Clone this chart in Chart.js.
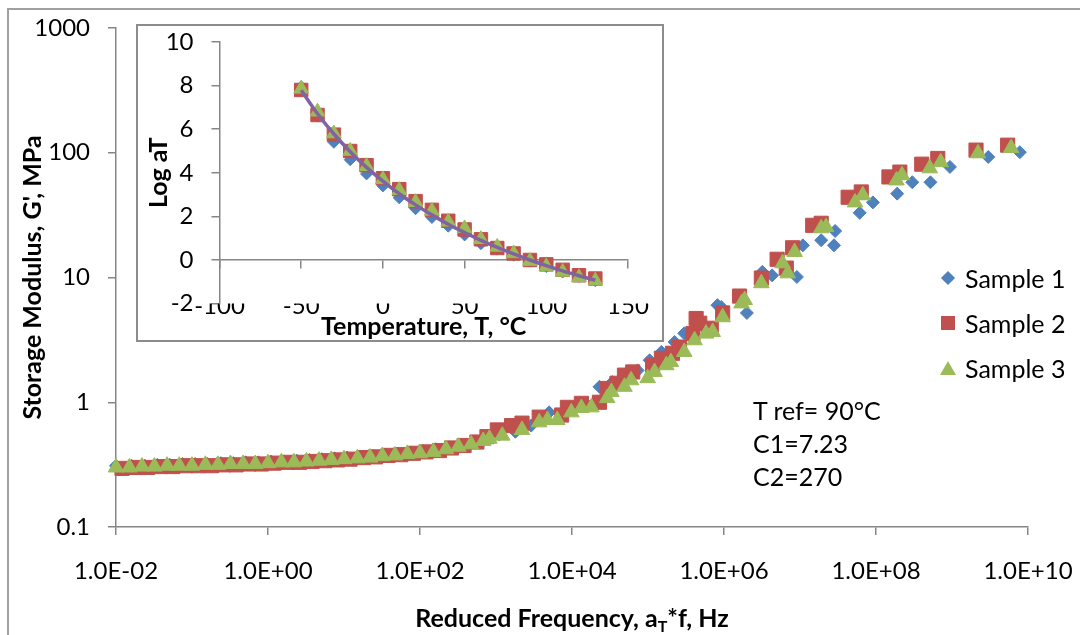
<!DOCTYPE html>
<html>
<head>
<meta charset="utf-8">
<title>Storage modulus master curve</title>
<script src="https://cdn.jsdelivr.net/npm/chart.js@4.4.1/dist/chart.umd.min.js"></script>
<style>
  body { margin: 0; background: #fff; font-family: Lato, sans-serif; color: #000; }
  #wrap { position: relative; width: 1080px; height: 635px; overflow: hidden; background: #fff; }
  #frame { position: absolute; left: 7px; top: 8px; width: 1200px; height: 800px; border: 2px solid #a0a0a0; }
  #main { position: absolute; left: 0; top: 0; }
  #inset { position: absolute; left: 136px; top: 24px; width: 528px; height: 318px; box-sizing: border-box;
           border: 2px solid #8c8c8c; background: #fff; }
  #inset canvas { position: absolute; left: 0; top: 0; }
  #legend { position: absolute; left: 935px; top: 255px; font-size: 25px; }
  #legend .row { display: flex; align-items: center; height: 45px; }
  #legend .mk { width: 26px; display: flex; justify-content: center; align-items: center; margin-right: 4px; }
  #note { position: absolute; left: 753px; top: 394px; font-size: 25px; line-height: 33px; }
  #xtitle { position: absolute; left: 572px; top: 602px; transform: translateX(-50%); white-space: nowrap;
            font-size: 25px; font-weight: bold; line-height: 30px; }
  #xtitle sub { font-size: 16px; line-height: 0; vertical-align: -5px; }
</style>
</head>
<body>
<div id="wrap">
  <div id="frame"></div>
  <canvas id="main" width="1080" height="635"></canvas>
  <div id="inset"><canvas id="insetChart" width="524" height="314"></canvas></div>
  <div id="legend"></div>
  <div id="note"></div>
  <div id="xtitle">Reduced Frequency, a<sub>T</sub>*f, Hz</div>
</div>
<script>
'use strict';

/*********** DATA ***********/
var seriesNames = ['Sample 1', 'Sample 2', 'Sample 3'];

// reduced frequency (Hz) and storage modulus G' (MPa)
var s1Freq = [0.010, 0.016, 0.024, 0.035, 0.051, 0.075, 0.11, 0.16, 0.24, 0.35, 0.51, 0.75, 1.1, 1.6, 2.4, 3.5,
  5.1, 7.5, 11, 16, 24, 35, 51, 75, 110, 160, 240, 350, 510, 700, 1100, 1800, 2900, 5000, 7500, 11000, 16000,
  23000, 34000, 73000, 105000, 150000, 224000, 300000, 520000, 820000, 920000, 2.0e6, 3.2e6, 4.3e6, 9.1e6,
  1.09e7, 1.9e7, 2.8e7, 2.9e7, 6.1e7, 9.1e7, 1.9e8, 3.0e8, 5.2e8, 9.4e8, 3.0e9, 7.8e9];
var s1Mod = [0.31, 0.31, 0.31, 0.315, 0.315, 0.32, 0.32, 0.32, 0.325, 0.325, 0.33, 0.33, 0.335, 0.335, 0.34, 0.345,
  0.35, 0.355, 0.36, 0.365, 0.37, 0.38, 0.385, 0.395, 0.405, 0.42, 0.435, 0.455, 0.48, 0.50, 0.55, 0.58, 0.65, 0.83, 0.80, 0.92, 0.95,
  1.33, 1.45, 1.80, 2.17, 2.53, 3.04, 3.57, 4.1, 6.0, 5.8, 5.2, 11.1, 10.4, 10.1,
  18.1, 19.9, 18.1, 23.6, 33, 40, 47, 58, 58, 77, 92.5, 101];

var s2Freq = [0.012, 0.018, 0.026, 0.038, 0.056, 0.082, 0.12, 0.18, 0.26, 0.38, 0.56, 0.82, 1.2, 1.8, 2.6, 3.8,
  5.6, 8.2, 12, 18, 26, 38, 56, 82, 120, 180, 260, 380, 560, 760, 1040, 1600, 2200, 3700, 7300, 8700, 13300,
  23000, 29000, 39000, 49000, 63000, 115000, 150000, 210000, 260000, 390000, 430000, 480000, 680000, 960000,
  1.6e6, 3.1e6, 5.0e6, 6.6e6, 8.0e6, 1.47e7, 1.9e7, 4.3e7, 6.4e7, 1.48e8, 2.06e8, 4.0e8, 6.5e8, 2.07e9, 5.4e9];
var s2Mod = [0.295, 0.30, 0.30, 0.305, 0.305, 0.31, 0.31, 0.31, 0.315, 0.315, 0.32, 0.32, 0.325, 0.33, 0.33, 0.335,
  0.34, 0.345, 0.35, 0.36, 0.365, 0.375, 0.38, 0.39, 0.40, 0.41, 0.43, 0.45, 0.48, 0.53, 0.60, 0.65, 0.68, 0.76, 0.79, 0.91, 0.98,
  1.0, 1.29, 1.42, 1.65, 1.75, 1.98, 2.25, 2.47, 2.77, 3.55, 4.69, 4.30, 3.92, 5.2,
  7.1, 9.9, 14.0, 11.9, 17.3, 26.2, 27.2, 44, 48.5, 64, 70, 81, 90, 105, 115];

var s3Freq = [0.010, 0.015, 0.022, 0.032, 0.047, 0.068, 0.10, 0.15, 0.22, 0.32, 0.47, 0.68, 1.0, 1.5, 2.2, 3.2,
  4.7, 6.8, 10, 15, 22, 32, 47, 68, 100, 150, 220, 320, 470, 680, 820, 1210, 2200, 3700, 4750, 6400, 9800,
  13300, 18000, 29000, 33000, 49000, 60000, 99000, 122000, 174000, 200000, 300000, 410000, 580000, 710000,
  960000, 1.7e6, 1.87e6, 3.1e6, 5.9e6, 6.9e6, 8.5e6, 1.9e7, 2.2e7, 5.3e7, 6.7e7, 1.86e8, 2.2e8, 5.1e8, 7.1e8,
  2.2e9, 6.0e9];
var s3Mod = [0.30, 0.30, 0.305, 0.305, 0.31, 0.31, 0.31, 0.315, 0.315, 0.32, 0.32, 0.32, 0.325, 0.33, 0.33, 0.335,
  0.34, 0.345, 0.35, 0.355, 0.36, 0.37, 0.375, 0.385, 0.39, 0.40, 0.42, 0.44, 0.46, 0.49, 0.51, 0.54, 0.60, 0.69, 0.72, 0.72, 0.83,
  0.90, 0.91, 1.08, 1.21, 1.33, 1.50, 1.56, 1.75, 1.98, 2.10, 2.53, 3.14, 3.55, 3.66,
  4.8, 6.2, 6.6, 9.0, 13.0, 10.8, 16.0, 24.8, 25.4, 40, 45.6, 60, 66, 75, 84,
  99, 109];

var xTickValues = [1e-2, 1e0, 1e2, 1e4, 1e6, 1e8, 1e10];
var xTickLabels = ['1.0E-02', '1.0E+00', '1.0E+02', '1.0E+04', '1.0E+06', '1.0E+08', '1.0E+10'];
var yTickValues = [0.1, 1, 10, 100, 1000];
var yTickLabels = ['0.1', '1', '10', '100', '1000'];

// inset: shift factors vs temperature
var tempC = [-50, -40, -30, -20, -10, 0, 10, 20, 30, 40, 50, 60, 70, 80, 90, 100, 110, 120, 130];
var logAT1 = [7.95, 6.6, 5.4, 4.6, 3.95, 3.4, 2.85, 2.35, 1.95, 1.55, 1.15, 0.75, 0.5, 0.22, -0.05, -0.3, -0.55, -0.75, -0.95];
var logAT2 = [7.8, 6.65, 5.75, 5.0, 4.35, 3.75, 3.25, 2.7, 2.3, 1.8, 1.4, 0.95, 0.55, 0.3, 0.0, -0.2, -0.45, -0.7, -0.85];
var logAT3 = [7.85, 6.8, 5.8, 5.0, 4.3, 3.7, 3.2, 2.65, 2.25, 1.75, 1.45, 0.95, 0.6, 0.3, -0.05, -0.3, -0.55, -0.8, -0.95];
var logATfit = [7.79, 6.71, 5.78, 4.97, 4.25, 3.62, 3.04, 2.53, 2.07, 1.64, 1.26, 0.90, 0.58, 0.28, 0.00, -0.26, -0.50, -0.72, -0.93];

var noteLines = ['T ref= 90°C', 'C1=7.23', 'C2=270'];

/*********** STYLE ***********/
var colors = ['#4F81BD', '#C0504D', '#9BBB59'];
var fitColor = '#8064A2';
var markers = ['rectRot', 'rect', 'triangle'];
var axisGray = '#868686';
var tickFont = { family: 'Lato', size: 24 };
var titleFont = { family: 'Lato', size: 25, weight: 'bold' };

/*********** FUNCTIONS ***********/
function toPoints(xs, ys) {
  var pts = [];
  for (var i = 0; i < xs.length; i++) {
    pts.push({ x: xs[i], y: ys[i] });
  }
  return pts;
}

// fixed axis box size; label overhang must not push the plot area in
function fixWidth(w) {
  return function (scale) {
    scale.width = w;
    scale.paddingTop = 0;
    scale.paddingBottom = 0;
  };
}
function fixHeight(h) {
  return function (scale) {
    scale.height = h;
    scale.paddingLeft = 0;
    scale.paddingRight = 0;
  };
}

function markerSet(i, data, radii) {
  return {
    label: seriesNames[i],
    data: data,
    pointStyle: markers[i],
    pointRadius: radii[i],
    pointBackgroundColor: colors[i],
    pointBorderColor: colors[i],
    pointBorderWidth: 1,
    showLine: false,
    order: 3 - i,
    clip: false
  };
}

function drawMain() {
  var r = [6.5, 10, 9];
  new Chart(document.getElementById('main'), {
    type: 'scatter',
    data: {
      datasets: [
        markerSet(0, toPoints(s1Freq, s1Mod), r),
        markerSet(1, toPoints(s2Freq, s2Mod), r),
        markerSet(2, toPoints(s3Freq, s3Mod), r)
      ]
    },
    options: {
      responsive: false,
      animation: false,
      layout: { padding: { left: 14, top: 28, right: 52, bottom: 0 } },
      plugins: { legend: { display: false }, tooltip: { enabled: false } },
      scales: {
        x: {
          type: 'logarithmic',
          position: 'bottom',
          min: 1e-2,
          max: 1e10,
          afterBuildTicks: function (scale) {
            scale.ticks = xTickValues.map(function (v) { return { value: v }; });
          },
          afterFit: fixHeight(108),
          ticks: {
            callback: function (v, i) { return xTickLabels[i]; },
            font: tickFont, color: '#000', padding: 22, maxRotation: 0, autoSkip: false
          },
          grid: { drawOnChartArea: false, tickLength: 8, color: axisGray, lineWidth: 1.5 },
          border: { color: axisGray, width: 1.5 }
        },
        y: {
          type: 'logarithmic',
          position: 'left',
          min: 0.1,
          max: 1000,
          afterBuildTicks: function (scale) {
            scale.ticks = yTickValues.map(function (v) { return { value: v }; });
          },
          afterFit: fixWidth(102),
          ticks: {
            callback: function (v, i) { return yTickLabels[i]; },
            font: tickFont, color: '#000', padding: 18, autoSkip: false
          },
          grid: { drawOnChartArea: false, tickLength: 8, color: axisGray, lineWidth: 1.5 },
          border: { color: axisGray, width: 1.5 },
          title: { display: true, text: 'Storage Modulus, G\', MPa', font: titleFont, color: '#000' }
        }
      }
    }
  });
}

function drawInset() {
  var r = [6, 9.5, 8.5];
  var sets = [
    markerSet(0, toPoints(tempC, logAT1), r),
    markerSet(1, toPoints(tempC, logAT2), r),
    markerSet(2, toPoints(tempC, logAT3), r),
    {
      label: 'WLF fit',
      data: toPoints(tempC, logATfit),
      showLine: true,
      borderColor: fitColor,
      borderWidth: 3.5,
      pointRadius: 0,
      cubicInterpolationMode: 'monotone',
      order: 0,
      clip: false
    }
  ];
  new Chart(document.getElementById('insetChart'), {
    type: 'scatter',
    data: { datasets: sets },
    options: {
      responsive: false,
      animation: false,
      layout: { padding: { left: 2, top: 16, right: 34, bottom: 0 } },
      plugins: { legend: { display: false }, tooltip: { enabled: false } },
      scales: {
        // axis line crossing at log aT = 0, tick marks only
        x: {
          type: 'linear',
          position: { y: 0 },
          min: -100,
          max: 150,
          ticks: { display: false, stepSize: 50 },
          grid: { drawOnChartArea: false, tickLength: 8, color: axisGray, lineWidth: 1.5 },
          border: { color: axisGray, width: 1.5 },
          afterFit: fixHeight(0)
        },
        // labels and title sit at the bottom, as in the original
        x2: {
          type: 'linear',
          axis: 'x',
          position: 'bottom',
          min: -100,
          max: 150,
          ticks: { stepSize: 50, padding: -12, font: tickFont, color: '#000', maxRotation: 0 },
          grid: { display: false, drawTicks: false },
          border: { display: false },
          title: { display: true, text: 'Temperature, T, °C', font: titleFont, color: '#000', padding: { top: 0, bottom: -2 } },
          afterFit: fixHeight(36.4)
        },
        y: {
          type: 'linear',
          position: 'left',
          min: -2,
          max: 10,
          ticks: { stepSize: 2, font: tickFont, color: '#000', padding: 18 },
          grid: { drawOnChartArea: false, tickLength: 8, color: axisGray, lineWidth: 1.5 },
          border: { color: axisGray, width: 1.5 },
          title: { display: true, text: 'Log aT', font: titleFont, color: '#000' },
          afterFit: fixWidth(79.5)
        }
      }
    }
  });
}

function renderLegend() {
  var legend = document.getElementById('legend');
  var shapes = [
    'width:10px;height:10px;transform:rotate(45deg);background:' + colors[0],
    'width:14px;height:14px;background:' + colors[1],
    'width:0;height:0;border-left:8px solid transparent;border-right:8px solid transparent;border-bottom:14px solid ' + colors[2]
  ];
  for (var i = 0; i < seriesNames.length; i++) {
    var row = document.createElement('div');
    row.className = 'row';
    var mk = document.createElement('span');
    mk.className = 'mk';
    var shape = document.createElement('span');
    shape.setAttribute('style', 'display:block;' + shapes[i]);
    mk.append(shape);
    row.append(mk);
    row.append(document.createTextNode(seriesNames[i]));
    legend.append(row);
  }
}

function renderNote() {
  var note = document.getElementById('note');
  for (var i = 0; i < noteLines.length; i++) {
    var line = document.createElement('div');
    line.textContent = noteLines[i];
    note.append(line);
  }
}

drawMain();
drawInset();
renderLegend();
renderNote();
</script>
</body>
</html>
